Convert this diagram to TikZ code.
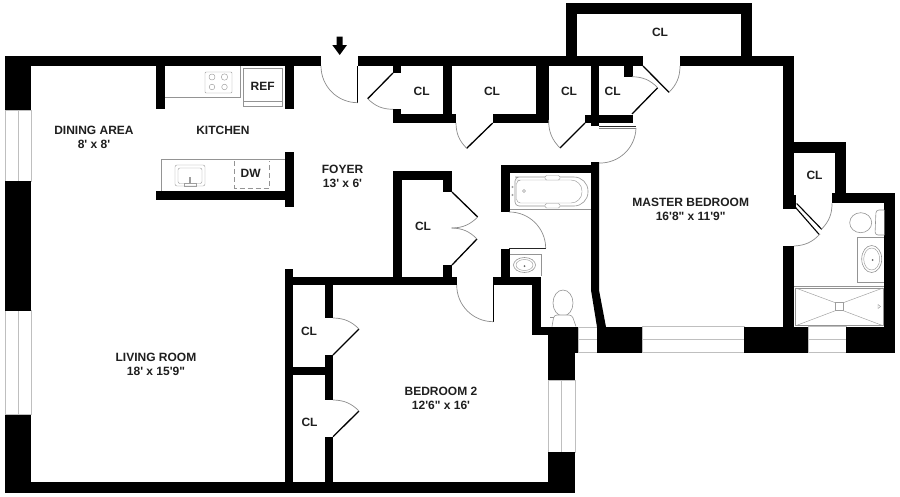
\documentclass[tikz,border=0pt]{standalone}
\usepackage{fontspec}
\newfontfamily\planfont{Liberation Sans}
\tikzset{
  x=1pt,y=-1pt,
  wall/.style={fill=black,draw=none},
  leaf/.style={draw=black,line width=1.3pt},
  swing/.style={draw=black!45,line width=0.7pt},
  fixture/.style={draw=black!42,line width=0.6pt},
  thinfix/.style={draw=black!38,line width=0.45pt},
  glass/.style={draw=black!25,fill=white,line width=0.8pt},
  roomlabel/.style={font=\planfont\bfseries\fontsize{12}{14}\selectfont,text=black!88,inner sep=0pt,align=center},
}
\newcommand{\planwall}[4]{\fill[wall] (#1,#2) rectangle (#3,#4);}
\begin{document}
\begin{tikzpicture}
\useasboundingbox (0,0) rectangle (900,496);
\fill[white] (0,0) rectangle (900,496);

% --- windows
\draw[glass] (5,110) rectangle (31,181); \draw[glass] (18,110) -- (18,181);
\draw[glass] (5,310.5) rectangle (31,414.5); \draw[glass] (18,310.5) -- (18,414.5);
\draw[glass] (548,380) rectangle (575,452); \draw[glass] (561.5,380) -- (561.5,452);
\draw[glass] (578,327) rectangle (597,352.7); \draw[glass] (578,339.7) -- (597,339.7);
\draw[glass] (642,326.5) rectangle (744,352.7); \draw[glass] (642,339.7) -- (744,339.7);
\draw[glass] (808,326.5) rectangle (846,352.7); \draw[glass] (808,339.7) -- (846,339.7);

% --- outer walls
\planwall{5}{55.5}{321}{66}
\planwall{357.7}{55.5}{643}{66}
\planwall{680}{55.5}{794}{66}
\planwall{5}{55.5}{31}{110}
\planwall{5}{181}{31}{310.5}
\planwall{5}{414.5}{31}{493}
\planwall{5}{482.3}{574.7}{493}
\planwall{548}{452}{574.7}{493}
\planwall{548}{327}{578}{353}
\planwall{548}{353}{574.7}{380}
\planwall{596.5}{326.5}{642}{352.7}
\planwall{744}{326.5}{808}{352.7}
\planwall{846}{326.5}{895}{352.7}
\planwall{884.3}{192.7}{895}{330}
\planwall{832}{192.7}{895}{203.3}
\planwall{835.3}{141.7}{846.3}{203}
\planwall{783}{141.7}{846.3}{152.7}
\planwall{783}{55.5}{794}{209}
\planwall{794}{195}{795.7}{209}
\planwall{783}{245.7}{794}{330}
\planwall{565.7}{3.3}{751.7}{14}
\planwall{565.7}{3.3}{576.7}{60}
\planwall{740.7}{3.3}{751.7}{60}

% --- kitchen
\planwall{156}{60}{165}{109}
\planwall{285}{60}{294}{109}
\planwall{285}{152}{294}{206.5}
\planwall{156}{191}{294}{199.5}

% --- bedroom 2 and its closets
\planwall{285}{268.5}{293}{485}
\planwall{285}{277}{456.5}{285}
\planwall{493}{277}{540.7}{285}
\planwall{325}{280}{333}{318}
\planwall{325}{355}{333}{400}
\planwall{293}{366.7}{333}{375}
\planwall{325}{436.7}{333}{485}
\planwall{532}{277}{540.7}{335}
\planwall{532}{327}{550}{335}

% --- bath
\planwall{500.7}{164.5}{599}{173}
\planwall{500.7}{164.5}{509.5}{212}
\planwall{500.7}{249}{509.5}{280}
\fill[wall] (591,162) -- (599,162) -- (599,290) -- (606,327) -- (597,327) -- (591,290) -- cycle;

% --- foyer closet
\planwall{393}{171}{452}{180}
\planwall{393}{171}{401.5}{280}
\planwall{443}{171}{452}{192}
\planwall{443}{265}{452}{280}

% --- upper closets
\planwall{393}{60}{401}{72.7}
\planwall{393}{109.3}{401}{123.3}
\planwall{393}{114.3}{456}{123.3}
\planwall{443.3}{60}{452}{120}
\planwall{492.7}{114.3}{549}{123.3}
\planwall{535.7}{60}{548.7}{120}
\planwall{591}{60}{599.3}{126}
\planwall{585}{115}{632.7}{123.3}
\planwall{624}{60}{632.5}{76.7}

% --- door leaves
\draw[leaf] (357.7,66) -- (357.7,102.7);
\draw[leaf] (393,73) -- (367.7,98.7);
\draw[leaf] (492.7,123) -- (466.7,148.3);
\draw[leaf] (585,123) -- (560,148);
\draw[leaf] (632,114) -- (657.7,87.7);
\draw[leaf] (643,66) -- (669,92.3);
\draw[leaf] (452,192) -- (477.7,217);
\draw[leaf] (452,265) -- (477,239);
\draw[leaf] (493.3,285) -- (493.3,321.7);
\draw[leaf] (333,355) -- (359,329);
\draw[leaf] (333,436.7) -- (359,411);
\draw[line width=1pt,black!85] (509,248) -- (545.7,248);
\draw[line width=1pt,black!85] (599,126) -- (636,126);
\draw[line width=0.5pt,black!50] (599,128.3) -- (636,128.3);
\draw[line width=1.1pt] (794.3,206) -- (819,234.3);
\draw[line width=1.1pt] (796.7,203.5) -- (821.7,229.3);

% --- door swings
\draw[swing] (321,66) to[bend right=45] (357.7,102.7);
\draw[swing] (367.7,98.7) to[bend right=22] (393,109.3);
\draw[swing] (456,123) to[bend right=22] (466.7,148.3);
\draw[swing] (548.6,120) to[bend right=22] (560,148);
\draw[swing] (632,76.7) to[bend left=22] (657.7,87.7);
\draw[swing] (669,92.3) to[bend right=22] (680,66);
\draw[swing] (636,128) to[bend left=45] (599,163);
\draw[swing] (477.7,217) to[bend left=22] (451.7,228);
\draw[swing] (477,239) to[bend right=22] (451.7,228);
\draw[swing] (456.7,285) to[bend right=45] (493.3,321.7);
\draw[swing] (509,212) to[bend left=45] (545.7,248);
\draw[swing] (333,318) to[bend left=22] (359,329);
\draw[swing] (333,400) to[bend left=22] (359,411);
\draw[swing] (821.7,229) to[bend right=22] (832,203.3);
\draw[swing] (820,234) to[bend left=22] (794,246);

% --- kitchen fixtures
\draw[fixture] (165,97.5) -- (240,97.5) -- (240,66);
\draw[thinfix,rounded corners=1pt] (205,72) rectangle (232,93);
\foreach \cx/\cy/\cr in {212/77/3,224.5/77/3.2,212/87/2.8,224.5/87/2.8}{\draw[thinfix] (\cx,\cy) circle (\cr);}
\draw[fixture] (243,68) rectangle (282,106.5);
\draw[fixture] (243,101.5) -- (282,101.5);
\draw[fixture] (161.5,191) -- (161.5,159.5) -- (285,159.5);
\draw[thinfix,rounded corners=2pt] (175,165) rectangle (205,186);
\draw[thinfix,rounded corners=2pt] (178,168) rectangle (202,183.5);
\draw[thinfix] (184,183.5) rectangle (196,186);
\draw[thinfix] (189.5,177) rectangle (190.5,183.5);
\draw[fixture,dashed,dash pattern=on 5pt off 3pt] (234.5,161) -- (234.5,188) -- (269,188) -- (269,161);

% --- bath fixtures
\draw[fixture] (509.5,209) -- (591,209);
\draw[fixture] (519,177) [rounded corners=14pt] -- (588,177) -- (588,206) [rounded corners=4pt] -- (515,206) -- (515,177) -- cycle;
\draw[thinfix] (520,180) [rounded corners=11pt] -- (582,180) -- (582,203) [rounded corners=4pt] -- (516.5,203) -- (516.5,180) -- cycle;
\draw[thinfix,fill=white,rounded corners=1.5pt] (545,175.5) rectangle (560,180);
\draw[thinfix,fill=white,rounded corners=1.5pt] (545,203.5) rectangle (560,208);
\draw[thinfix] (512.5,187) circle (0.8) (512.5,195) circle (0.8) (524,191) circle (1.5);
\draw[fixture] (509.5,254) -- (541,254) -- (541,276);
\draw[fixture] (524.5,265) ellipse (11 and 7.5);
\draw[thinfix] (524.5,265) ellipse (8.5 and 5.5);
\fill[black!60] (524.5,266) circle (1);
\draw[fixture,fill=white] (563,303) ellipse (10 and 13);
\draw[fixture,fill=white,rounded corners=3pt] (552,326.5) -- (554,315) -- (572,315) -- (576,326.5);
\draw[fixture] (550,317) -- (554,317);

% --- master bath fixtures
\draw[fixture,fill=white] (860.7,222.7) ellipse (11 and 10);
\draw[fixture,fill=white,rounded corners=3pt] (884.3,210) -- (876,210) -- (875,235) -- (884.3,235);
\draw[fixture] (857,282.7) -- (857,237) -- (884.3,237);
\draw[fixture] (857,282.7) -- (884.3,282.7);
\draw[fixture] (871.7,259) ellipse (10 and 13.5);
\draw[thinfix] (871.7,259) ellipse (8 and 11);
\fill[black!60] (872.5,260) circle (1);
\draw[fixture] (794,286) -- (884.3,286);
\draw[fixture] (795.7,288) rectangle (883,325.7);
\draw[thinfix] (835.3,302.7) rectangle (843.3,310.7);
\draw[thinfix] (795.7,288) -- (835.3,302.7) (883,288) -- (843.3,302.7)
  (795.7,325.7) -- (835.3,310.7) (883,325.7) -- (843.3,310.7);
\draw[thinfix] (878,304.5) -- (880.5,306.5) -- (878,308.5) -- cycle;

% --- entry arrow
\fill[black] (336.7,36.7) -- (342.7,36.7) -- (342.7,45) -- (347,45) -- (339.7,55) -- (332.3,45) -- (336.7,45) -- cycle;

% --- labels
\node[roomlabel] (dining)  at (94,137.5)   {DINING AREA\\8' x 8'};
\node[roomlabel] (kitchen) at (223,130.3)  {KITCHEN};
\node[roomlabel] (ref)     at (262.7,86)   {REF};
\node[roomlabel] (dw)      at (250.7,173.7){DW};
\node[roomlabel] (foyer)   at (342.5,176)  {FOYER\\13' x 6'};
\node[roomlabel] (cla)     at (421.7,91)   {CL};
\node[roomlabel] (clb)     at (492,91)     {CL};
\node[roomlabel] (clc)     at (569,91)     {CL};
\node[roomlabel] (cld)     at (612.7,91)   {CL};
\node[roomlabel] (cle)     at (660,32)     {CL};
\node[roomlabel] (clf)     at (814.5,175)  {CL};
\node[roomlabel] (clg)     at (423,226.5)  {CL};
\node[roomlabel] (clh)     at (309,331)    {CL};
\node[roomlabel] (cli)     at (309.5,422)  {CL};
\node[roomlabel] (master)  at (690.7,209.5){MASTER BEDROOM\\16'8" x 11'9"};
\node[roomlabel] (living)  at (156,364)    {LIVING ROOM\\18' x 15'9"};
\node[roomlabel] (bedtwo)  at (441,398.5)  {BEDROOM 2\\12'6" x 16'};
\end{tikzpicture}
\end{document}
